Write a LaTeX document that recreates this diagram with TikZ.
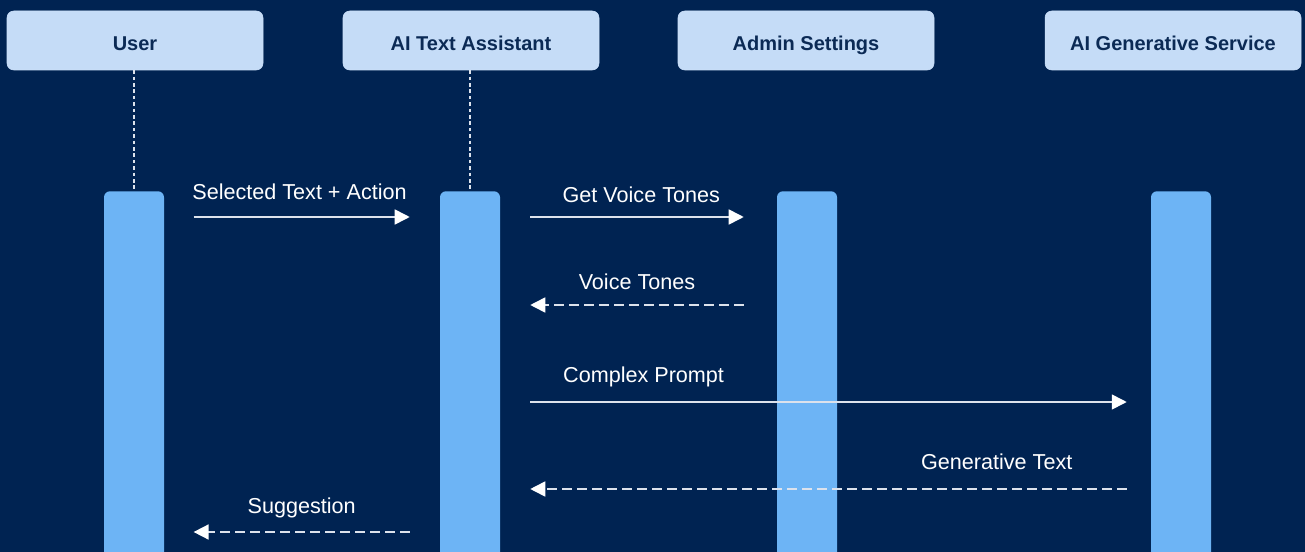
\documentclass[tikz,border=0pt]{standalone}
\usepackage{fontspec}
\setmainfont{Liberation Sans}
\usetikzlibrary{arrows.meta,positioning}
\definecolor{navy}{HTML}{002352}
\definecolor{headfill}{HTML}{C5DCF7}
\definecolor{headtext}{HTML}{0B2A55}
\definecolor{barfill}{HTML}{6DB4F5}
\definecolor{msgline}{HTML}{DCE2EC}
\tikzset{
  head/.style    = {fill=headfill, draw=headfill!90!white, rounded corners=5pt,
                    minimum width=192pt, minimum height=44.25pt,
                    text height=15pt, text depth=0pt,
                    text=headtext, font=\bfseries\fontsize{15}{17}\selectfont},
  actbar/.style  = {fill=barfill, rounded corners=4.5pt, anchor=north,
                    minimum width=45pt, minimum height=285pt, inner sep=0pt},
  lifeline/.style= {msgline, line width=0.8pt, dash pattern=on 2.6pt off 2.2pt},
  call/.style    = {msgline, line width=1.2pt,
                    -{Triangle[length=11.25pt,width=11.25pt,color=white]}},
  reply/.style   = {call, dash pattern=on 7.5pt off 3.75pt},
  lbl/.style     = {text=white, font=\fontsize{16.2}{18}\selectfont,
                    anchor=base, inner sep=0pt},
}
\begin{document}
\begin{tikzpicture}[x=0.75pt,y=-0.75pt]
  \fill[navy] (0,0) rectangle (1305,552);
  \useasboundingbox (0,0) rectangle (1305,552);
  \clip (0,0) rectangle (1305,552);
  % participants
  \node[head] (user)  at (135,40.5)  {User};
  \node[head] (asst)  at (471,40.5)  {AI Text Assistant};
  \node[head] (admin) at (806,40.5)  {Admin Settings};
  \node[head] (gen)   at (1173,40.5) {AI Generative Service};
  % activation bars
  \node[actbar] (ubar) at (134,191)  {};
  \node[actbar] (abar) at (470,191)  {};
  \node[actbar] (sbar) at (807,191)  {};
  \node[actbar] (gbar) at (1181,191) {};
  \draw[lifeline] (user.south -| ubar) -- (ubar.north);
  \draw[lifeline] (asst.south -| abar) -- (abar.north);
  % message rows
  \coordinate (r1) at (0,217);
  \coordinate (r2) at (0,305);
  \coordinate (r3) at (0,402);
  \coordinate (r4) at (0,489);
  \coordinate (r5) at (0,532);
  \draw[call]  ([xshift=22pt]ubar.east |- r1) -- ([xshift=-22.5pt]abar.west |- r1)
    node[lbl,pos=0.49,yshift=12.75pt] {Selected Text + Action};
  \draw[call]  ([xshift=22.5pt]abar.east |- r1) -- ([xshift=-24.75pt]sbar.west |- r1)
    node[lbl,pos=0.52,yshift=10.5pt] {Get Voice Tones};
  \draw[reply] ([xshift=-24.75pt]sbar.west |- r2) -- ([xshift=22.5pt]abar.east |- r2)
    node[lbl,pos=0.5,yshift=12pt] {Voice Tones};
  \draw[call]  ([xshift=22.5pt]abar.east |- r3) -- ([xshift=-18pt]gbar.west |- r3)
    node[lbl,pos=0.19,yshift=15pt] {Complex Prompt};
  \draw[reply] ([xshift=-18pt]gbar.west |- r4) -- ([xshift=22.5pt]abar.east |- r4)
    node[lbl,pos=0.218,yshift=15pt] {Generative Text};
  \draw[reply] ([xshift=-22.5pt]abar.west |- r5) -- ([xshift=22pt]ubar.east |- r5)
    node[lbl,pos=0.5,yshift=14.25pt] {Suggestion};
\end{tikzpicture}
\end{document}
